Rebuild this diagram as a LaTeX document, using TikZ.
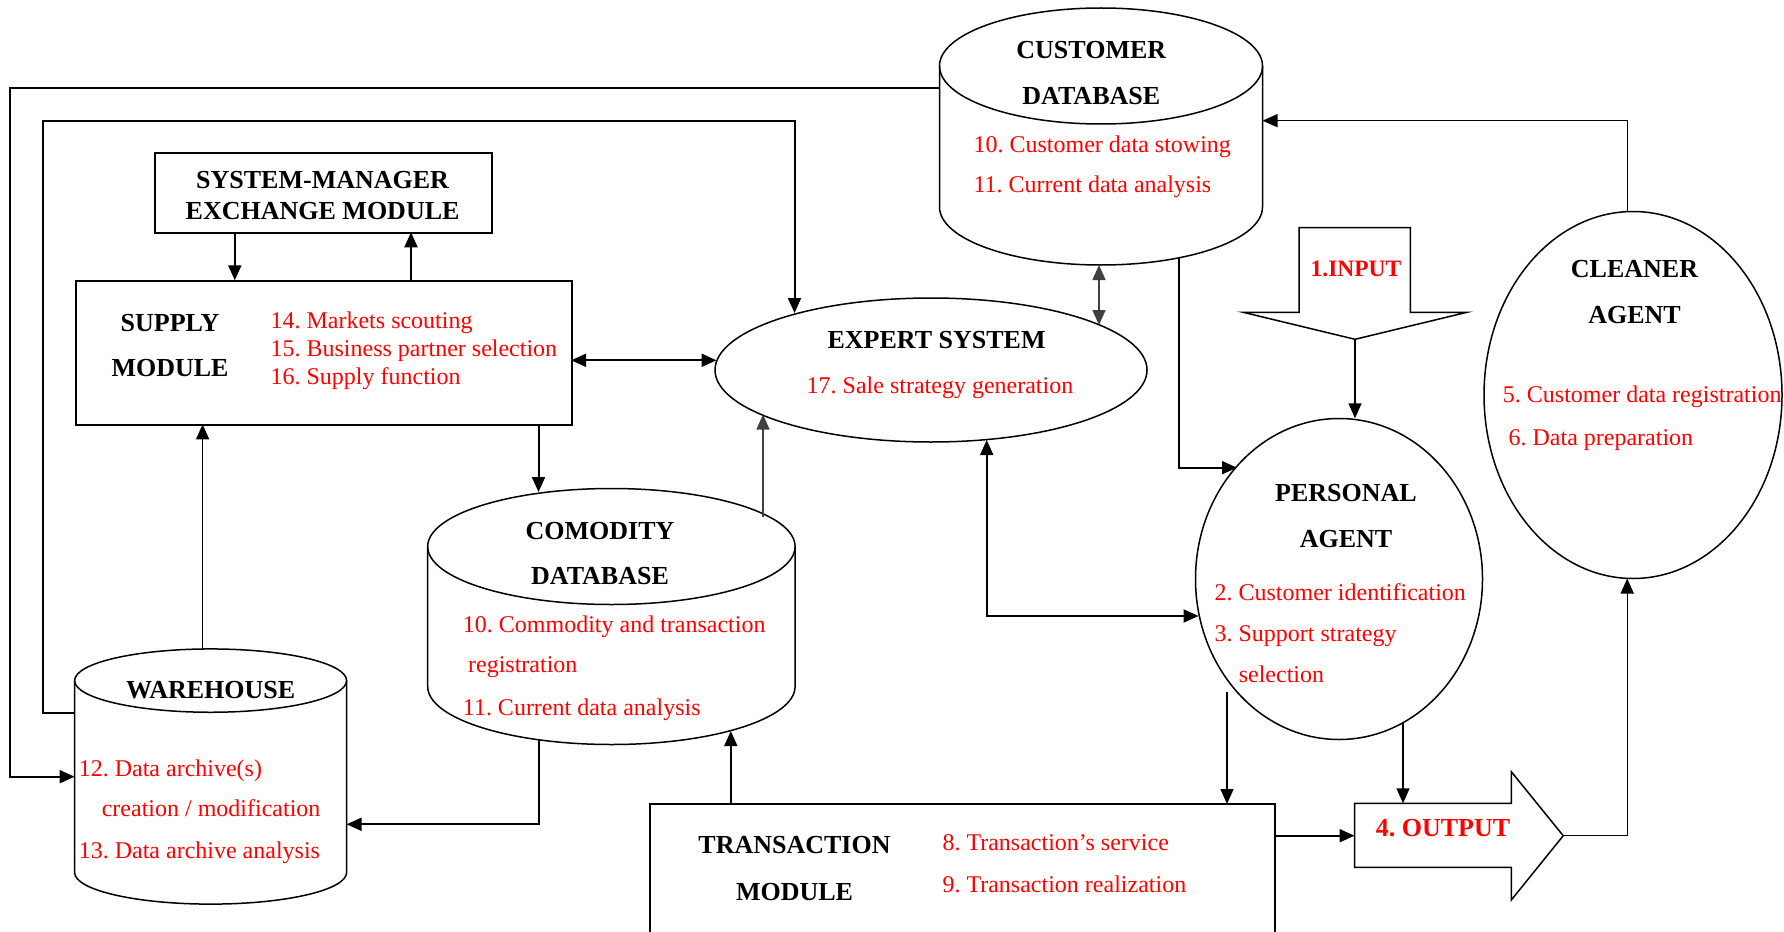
\documentclass[tikz,border=0pt]{standalone}
\usepackage{fontspec}
\setmainfont{Liberation Serif}
\usetikzlibrary{arrows.meta,shapes.geometric}
\definecolor{redtxt}{RGB}{255,0,0}
\definecolor{darkgrey}{RGB}{64,64,64}
\frenchspacing
\begin{document}
\begin{tikzpicture}[x=1pt,y=-1pt,
  shp/.style={line width=1.5pt},
  boxln/.style={line width=2pt},
  tip/.tip={Triangle[length=15pt,width=13pt]},
  arr/.style={line width=2pt,-tip},
  tarr/.style={line width=1.4pt,-tip},
  darr/.style={line width=2pt,tip-tip},
  garr/.style={line width=1.5pt,draw=darkgrey,fill=darkgrey},
  bt/.style={font=\fontsize{26}{30}\selectfont\bfseries, inner sep=0pt, anchor=base},
  rt/.style={font=\fontsize{24}{28}\selectfont, text=redtxt, inner sep=0pt, anchor=base west},
  ell/.style={ellipse, draw, line width=1.5pt, inner sep=0pt}
]
\useasboundingbox (0,0) rectangle (1784,931);

% ---------- boxes ----------
\node[draw, boxln, inner sep=0pt, minimum width=336.4pt, minimum height=80pt, anchor=north west] (sm) at (154.4,152.3) {};
\node[bt] (smA) at (322.6,188.3) {SYSTEM-MANAGER};
\node[bt] (smB) at (322.6,219.3) {EXCHANGE MODULE};

\node[draw, boxln, inner sep=0pt, minimum width=496.6pt, minimum height=144pt, anchor=north west] (sup) at (74.6,280.3) {};
\node[bt] (supA) at (170,331) {SUPPLY};
\node[bt] (supB) at (170,376.7) {MODULE};
\node[rt] (sup14) at (270.4,328.3) {14. Markets scouting};
\node[rt] (sup15) at (270.4,356) {15. Business partner selection};
\node[rt] (sup16) at (270.4,384) {16. Supply function};

% transaction module (runs past the bottom edge)
\draw[boxln] (650.4,940) -- (650.4,804) -- (1275,804) -- (1275,940);
\node[inner sep=0pt] (trans) at (962,870) {};
\node[bt] (trA) at (794.5,853.3) {TRANSACTION};
\node[bt] (trB) at (794.5,900.7) {MODULE};
\node[rt] (tr8) at (942.3,850) {8. Transaction’s service};
\node[rt] (tr9) at (942.3,892.3) {9. Transaction realization};

% ---------- ellipses ----------
\node[ell, minimum width=432pt, minimum height=144pt] (expert) at (931,370) {};
\node[bt] (exA) at (936.6,348.3) {EXPERT SYSTEM};
\node[rt, anchor=base] (ex17) at (940,393.3) {17. Sale strategy generation};

\node[ell, minimum width=287pt, minimum height=321pt] (personal) at (1339,579) {};
\node[bt] (peA) at (1346,501.7) {PERSONAL};
\node[bt] (peB) at (1346,547.3) {AGENT};
\node[rt] (pe2) at (1214.4,600) {2. Customer identification};
\node[rt] (pe3) at (1214.4,641.7) {3. Support strategy};
\node[rt] (pe3b) at (1238.6,682.7) {selection};

\node[ell, minimum width=298pt, minimum height=367pt] (cleaner) at (1633,395) {};
\node[bt] (clA) at (1634.5,277.7) {CLEANER};
\node[bt] (clB) at (1634.5,323.3) {AGENT};
\node[rt] (cl5) at (1502.7,402.7) {5. Customer data registration};
\node[rt] (cl6) at (1508.4,445) {6. Data preparation};

% ---------- cylinders ----------
% customer database
\node[ell, minimum width=323pt, minimum height=116pt] (cdbtop) at (1101,66) {};
\draw[shp] (939.5,66) -- (939.5,207) arc[start angle=180, end angle=360, x radius=161.5pt, y radius=58pt] -- (1262.5,66);
\node[bt] (cdbA) at (1091.3,58.3) {CUSTOMER};
\node[bt] (cdbB) at (1091.3,104.3) {DATABASE};
\node[rt] (cdb10) at (973.4,152.3) {10. Customer data stowing};
\node[rt] (cdb11) at (973.4,192.7) {11. Current data analysis};

% commodity database
\node[ell, minimum width=367.4pt, minimum height=116pt] (comtop) at (611.4,546.5) {};
\draw[shp] (427.7,546.5) -- (427.7,686.5) arc[start angle=180, end angle=360, x radius=183.7pt, y radius=58pt] -- (795.1,546.5);
\node[bt] (comA) at (600,539.3) {COMODITY};
\node[bt] (comB) at (600,584.3) {DATABASE};
\node[rt] (com10) at (462.7,632.3) {10. Commodity and transaction};
\node[rt] (com10b) at (467.9,672.7) {registration};
\node[rt] (com11) at (462.7,715) {11. Current data analysis};

% warehouse
\node[ell, minimum width=272pt, minimum height=63.3pt] (whtop) at (210.6,680.6) {};
\draw[shp] (74.6,680.6) -- (74.6,872.5) arc[start angle=180, end angle=360, x radius=136pt, y radius=31.6pt] -- (346.6,680.6);
\node[bt] (whA) at (210.7,698.3) {WAREHOUSE};
\node[rt] (wh12) at (78.6,776) {12. Data archive(s)};
\node[rt] (wh12b) at (101.6,816.7) {creation / modification};
\node[rt] (wh13) at (78.6,858.3) {13. Data archive analysis};

% ---------- block arrows ----------
\draw[shp] (1299.1,227.7) -- (1410.4,227.7) -- (1410.4,312.3) -- (1466.9,312.3) -- (1355,339.3) -- (1243.2,312.3) -- (1299.1,312.3) -- cycle;
\node[font=\fontsize{23.5}{28}\selectfont\bfseries, text=redtxt, inner sep=0pt, anchor=base] (input) at (1356,276) {1.INPUT};
\coordinate (inTip) at (1355,339.3);

\draw[shp] (1354.5,803.3) -- (1511.3,803.3) -- (1511.3,771.7) -- (1563.2,835.7) -- (1511.3,900) -- (1511.3,867.3) -- (1354.5,867.3) -- cycle;
\node[font=\fontsize{26}{30}\selectfont\bfseries, text=redtxt, inner sep=0pt, anchor=base] (output) at (1443,836.7) {4. OUTPUT};
\coordinate (outL) at (1354.5,835.7);
\coordinate (outTip) at (1563.2,835.7);

% ---------- connector end points ----------
\coordinate (cdbW) at (939.5,88.3);
\coordinate (whW1) at (74.6,776.7);
\coordinate (whW2) at (74.6,712.7);
\coordinate (exN1) at (794.5,313);
\coordinate (smS1) at (234.8,232.3);
\coordinate (supN1) at (234.8,280.3);
\coordinate (supN2) at (411,280.3);
\coordinate (smS2) at (411,232.3);
\coordinate (supE) at (571.2,360.3);
\coordinate (exW) at (716.5,360.3);
\coordinate (supS1) at (538.5,424.3);
\coordinate (comN1) at (538.5,492);
\coordinate (comN2) at (763,517);
\coordinate (exS1) at (763,414.5);
\coordinate (whN) at (202.6,649);
\coordinate (supS2) at (202.6,424.3);
\coordinate (comS1) at (538.5,740);
\coordinate (whE) at (346.6,824.3);
\coordinate (trN1) at (730.8,804);
\coordinate (comS2) at (730.8,731);
\coordinate (cdbS1) at (1099,265);
\coordinate (exN2) at (1099,325);
\coordinate (cdbS2) at (1178.6,258);
\coordinate (peW1) at (1237,467.7);
\coordinate (clN) at (1627.2,212);
\coordinate (cdbE) at (1262.5,120.7);
\coordinate (peN) at (1355,418.3);
\coordinate (exS2) at (986.7,440);
\coordinate (peW2) at (1198.5,616);
\coordinate (peS1) at (1227,691.7);
\coordinate (trN2) at (1227,804);
\coordinate (peS2) at (1403,723.3);
\coordinate (outN) at (1403,803.3);
\coordinate (trE) at (1275,835.7);
\coordinate (clS) at (1627.2,578.5);

% ---------- connectors ----------
\draw[arr] (cdbW) -- (10.3,88.3) |- (whW1);
\draw[arr] (whW2) -- (42.5,712.7) |- (794.5,120.7) -- (exN1);
\draw[arr] (smS1) -- (supN1);
\draw[arr] (supN2) -- (smS2);
\draw[darr] (supE) -- (exW);
\draw[arr] (supS1) -- (comN1);
\draw[garr, -tip] (comN2) -- (exS1);
\draw[tarr] (whN) -- (supS2);
\draw[arr] (comS1) |- (whE);
\draw[tarr] (trN1) -- (comS2);
\draw[garr, tip-tip] (cdbS1) -- (exN2);
\draw[arr] (cdbS2) |- (peW1);
\draw[tarr] (clN) |- (cdbE);
\draw[tarr] (inTip) -- (peN);
\draw[darr] (exS2) |- (peW2);
\draw[tarr] (peS1) -- (trN2);
\draw[tarr] (peS2) -- (outN);
\draw[arr] (trE) -- (outL);
\draw[tarr] (outTip) -| (clS);
\end{tikzpicture}
\end{document}
